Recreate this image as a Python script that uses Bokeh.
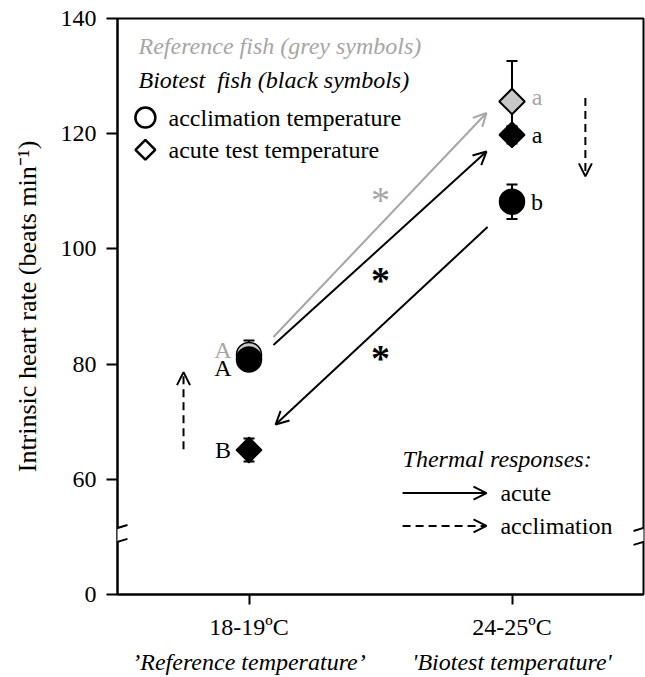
import math
from bokeh.plotting import figure
from bokeh.models import (FixedTicker, LinearAxis, Range1d, Arrow, OpenHead,
                          BoxAnnotation)
from bokeh.core.properties import value
from bokeh.embed import file_html
from bokeh.resources import INLINE

FONT = "Liberation Serif"
GREY = "#a6a6a6"
FS = "24px"

# ---------------- data ----------------
categories = ["18-19ºC", "24-25ºC"]
category_notes = ["\u2019Reference temperature\u2019", "'Biotest temperature'"]
category_x = [1, 2]
y_ticks = [0, 60, 80, 100, 120, 140]

# Reference fish (grey symbols)
ref_circle_x = [1]
ref_circle_y = [81.6]
ref_circle_err = [2.5]
ref_diamond_x = [2]
ref_diamond_y = [125.6]
ref_diamond_err = [7.0]

# Biotest fish (black symbols)
bio_circle_x = [1, 2]
bio_circle_y = [80.8, 108.2]
bio_circle_err = [1.5, 3.0]
bio_diamond_x = [1, 2]
bio_diamond_y = [65.1, 119.8]
bio_diamond_err = [2.0, 1.5]

# significance letters
ref_circle_letters = ["A"]
ref_diamond_letters = ["a"]
bio_circle_letters = ["A", "b"]
bio_diamond_letters = ["B", "a"]

# axis break: real 0 is drawn at display value 40
BREAK_ZERO = 40
def disp(v):
    return BREAK_ZERO if v == 0 else v

# ---------------- figure ----------------
p = figure(width=645, height=677, output_backend="svg", toolbar_location=None,
           x_range=Range1d(0.5, 2.5), y_range=Range1d(40, 140),
           min_border_left=117, min_border_right=2, min_border_top=18,
           min_border_bottom=79, x_axis_type=None, y_axis_type=None)
p.xgrid.visible = False
p.ygrid.visible = False
p.outline_line_color = "black"
p.outline_line_width = 2
p.background_fill_color = "white"
p.border_fill_color = "white"

# y axis
yax = LinearAxis(ticker=FixedTicker(ticks=[disp(t) for t in y_ticks]),
                 major_label_overrides={disp(t): str(t) for t in y_ticks})
yax.axis_label = "Intrinsic heart rate (beats min\u207b\u00b9)"
yax.axis_label_text_font = FONT
yax.axis_label_text_font_size = "26px"
yax.axis_label_text_font_style = "normal"
yax.axis_label_text_color = "black"
yax.axis_label_standoff = 16
yax.major_label_text_font = FONT
yax.major_label_text_font_size = FS
yax.major_label_text_color = "black"
yax.major_label_standoff = 10
yax.major_tick_out = 11
yax.major_tick_in = 0
yax.minor_tick_line_color = None
yax.axis_line_width = 2
yax.major_tick_line_width = 2
p.add_layout(yax, "left")

# x axis
xax = LinearAxis(ticker=FixedTicker(ticks=category_x),
                 major_label_overrides={x: c for x, c in zip(category_x, categories)})
xax.major_label_text_font = FONT
xax.major_label_text_font_size = FS
xax.major_label_text_color = "black"
xax.major_label_standoff = 9
xax.major_tick_out = 10
xax.major_tick_in = 0
xax.minor_tick_line_color = None
xax.axis_line_width = 2
xax.major_tick_line_width = 2
p.add_layout(xax, "below")

xax2 = LinearAxis(ticker=FixedTicker(ticks=category_x),
                  major_label_overrides={x: c for x, c in zip(category_x, category_notes)})
xax2.major_label_text_font = FONT
xax2.major_label_text_font_size = FS
xax2.major_label_text_color = "black"
xax2.major_label_text_font_style = "italic"
xax2.major_label_standoff = 0
xax2.major_tick_line_color = None
xax2.minor_tick_line_color = None
xax2.axis_line_color = None
p.add_layout(xax2, "below")

# ---------------- error bars ----------------
def errbars(xs, ys, es):
    lo = [y - e for y, e in zip(ys, es)]
    hi = [y + e for y, e in zip(ys, es)]
    p.segment(x0=xs, y0=lo, x1=xs, y1=hi, line_color="black", line_width=2)
    p.scatter(x=xs + xs, y=lo + hi, marker="dash", size=11, line_color="black", line_width=2)

errbars(ref_circle_x, ref_circle_y, ref_circle_err)
errbars(ref_diamond_x, ref_diamond_y, ref_diamond_err)
errbars(bio_circle_x, bio_circle_y, bio_circle_err)
errbars(bio_diamond_x, bio_diamond_y, bio_diamond_err)

# ---------------- markers ----------------
p.scatter(x=ref_circle_x, y=ref_circle_y, marker="circle", size=25,
          fill_color="#c8c8c8", line_color="black", line_width=1.5)
p.scatter(x=ref_diamond_x, y=ref_diamond_y, marker="square", angle=math.pi / 4, size=18,
          fill_color="#c8c8c8", line_color="black", line_width=2)
p.scatter(x=bio_circle_x, y=bio_circle_y, marker="circle", size=25,
          fill_color="black", line_color="black", line_width=1.5)
p.scatter(x=bio_diamond_x, y=bio_diamond_y, marker="square", angle=math.pi / 4, size=18,
          fill_color="black", line_color="black", line_width=1.5)

# ---------------- letters ----------------
def letter(x, y, lab, color, dy):
    p.text(x=[x], y=[y], text=[lab], x_offset=(-26 if x == 1 else 25), y_offset=dy,
           text_font=value(FONT), text_font_size=FS, text_color=color,
           text_align="center", text_baseline="middle")

letter(ref_circle_x[0], ref_circle_y[0], ref_circle_letters[0], GREY, -5)
letter(ref_diamond_x[0], ref_diamond_y[0], ref_diamond_letters[0], GREY, -4)
letter(bio_circle_x[0], bio_circle_y[0], bio_circle_letters[0], "black", 9)
letter(bio_circle_x[1], bio_circle_y[1], bio_circle_letters[1], "black", 0)
letter(bio_diamond_x[0], bio_diamond_y[0], bio_diamond_letters[0], "black", 0)
letter(bio_diamond_x[1], bio_diamond_y[1], bio_diamond_letters[1], "black", 0)

# ---------------- arrows ----------------
def arrow(x0, y0, x1, y1, color="black", dash="solid"):
    p.add_layout(Arrow(x_start=x0, y_start=y0, x_end=x1, y_end=y1,
                       line_color=color, line_width=2, line_dash=dash,
                       end=OpenHead(size=13, line_color=color, line_width=2)))

arrow(1.093, 84.7, 1.903, 123.6, GREY)
arrow(1.093, 83.3, 1.903, 116.9)
arrow(1.907, 103.8, 1.101, 69.5)
arrow(0.751, 65.2, 0.751, 78.6, dash="8 5")
arrow(2.279, 126.2, 2.279, 112.6, dash="8 5")

# asterisks
p.text(x=[1.5], y=[109.5], text=["*"], y_offset=6, text_font=value(FONT),
       text_font_size="38px", text_color=GREY, text_align="center", text_baseline="alphabetic")
p.text(x=[1.5, 1.5], y=[95.7, 82.1], text=["*", "*"], y_offset=6, text_font=value(FONT),
       text_font_size="38px", text_font_style="bold", text_color="black",
       text_align="center", text_baseline="alphabetic")

# ---------------- legends ----------------
p.text(x=[0.58], y=[135.3], text=["Reference fish (grey symbols)"], text_font=value(FONT),
       text_font_size=FS, text_font_style="italic", text_color=GREY,
       text_align="left", text_baseline="middle")
p.text(x=[0.58], y=[129.3], text=["Biotest\u00a0 fish (black symbols)"], text_font=value(FONT),
       text_font_size=FS, text_font_style="italic", text_color="black",
       text_align="left", text_baseline="middle")
p.scatter(x=[0.606], y=[122.8], marker="circle", size=20, fill_color="white",
          line_color="black", line_width=2.5)
p.scatter(x=[0.606], y=[117.2], marker="square", angle=math.pi / 4, size=14,
          fill_color="white", line_color="black", line_width=2.5)
p.text(x=[0.694, 0.694], y=[122.8, 117.2],
       text=["acclimation temperature", "acute test temperature"],
       text_font=value(FONT), text_font_size=FS, text_color="black",
       text_align="left", text_baseline="middle")

p.text(x=[1.584], y=[63.45], text=["Thermal responses:"], text_font=value(FONT),
       text_font_size=FS, text_font_style="italic", text_color="black",
       text_align="left", text_baseline="middle")
arrow(1.584, 57.6, 1.903, 57.6)
arrow(1.584, 51.9, 1.903, 51.9, dash="8 5")
p.text(x=[1.956, 1.956], y=[57.6, 51.9], text=["acute", "acclimation"],
       text_font=value(FONT), text_font_size=FS, text_color="black",
       text_align="left", text_baseline="middle")

# ---------------- axis break marks ----------------
for xc in (0.5, 2.5):
    p.add_layout(BoxAnnotation(left=xc - 0.03, right=xc + 0.03, bottom=49.3, top=51.4,
                               fill_color="white", fill_alpha=1, line_color=None,
                               level="annotation"))
    for yc in (51.55, 49.14):
        p.add_layout(Arrow(x_start=xc - 0.038, y_start=yc - 0.52,
                           x_end=xc + 0.038, y_end=yc + 0.52,
                           line_color="black", line_width=2, end=None))

open("out.html", "w").write(file_html(p, INLINE))
